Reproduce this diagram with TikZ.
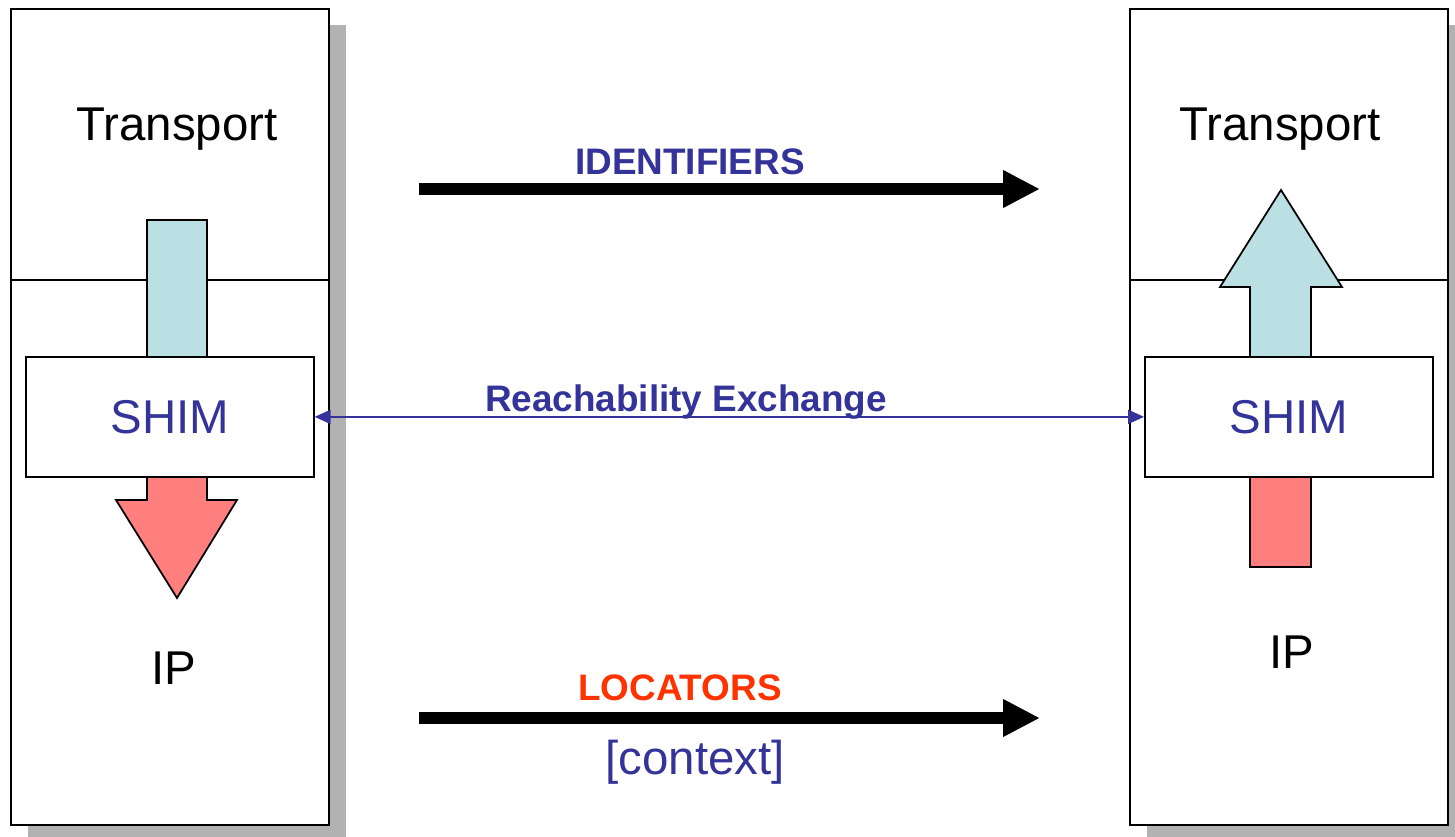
\documentclass[tikz,border=0pt]{standalone}
\usepackage{fontspec}
\setmainfont{Liberation Sans}
\usetikzlibrary{arrows.meta,shadows}
\definecolor{shimblue}{HTML}{333399}
\definecolor{locred}{HTML}{FF3300}
\definecolor{upcyan}{HTML}{BBE0E3}
\definecolor{downred}{HTML}{FF7F7F}
\definecolor{shadowgray}{HTML}{B2B2B2}
\begin{document}
\begin{tikzpicture}[x=0.02cm,y=-0.02cm,
    host/.style={draw,line width=1pt,fill=white,minimum width=6.36cm,minimum height=16.32cm,anchor=north west,
        drop shadow={shadow xshift=0.34cm,shadow yshift=-0.32cm,fill=shadowgray,opacity=1}},
    shimbox/.style={draw,line width=1pt,fill=white,minimum width=5.76cm,minimum height=2.4cm,anchor=north west,
        text=shimblue,font=\fontsize{27}{32}\selectfont},
    layer/.style={font=\fontsize{27}{32}\selectfont,text depth=0pt},
    tag/.style={font=\fontsize{21}{25}\selectfont\bfseries},
    bigflow/.style={line width=6.8pt,-{Triangle[length=21pt,width=20pt]}},
    blockarrow/.style={draw,line width=1pt,line join=miter}]
            \fill[white](0,0)rectangle(1455,836);
            \useasboundingbox(0,0)rectangle(1455,836);
            % the two hosts
            \node[host]at(10,8)(lhost){};
            \node[host]at(1129,8)(rhost){};
            \draw[line width=1pt](10,280)--(328,280);
            \draw[line width=1pt](1129,280)--(1447,280);
            \node[layer]at(177,124)(ltrans){Transport};
            \node[layer]at(1280,124)(rtrans){Transport};
            \node[layer]at(174,668)(lip){IP};
            \node[layer]at(1292,652)(rip){IP};
            % block arrows, under the shims
            \draw[blockarrow,fill=upcyan](147,220)rectangle(207,362);
            \draw[blockarrow,fill=downred](147,470)--(147,500)--(116,500)--(177,598)--(237,500)--(207,500)--(207,470)--cycle;
            \draw[blockarrow,fill=upcyan](1250,362)--(1250,287)--(1220,287)--(1281,190)--(1342,287)--(1311,287)--(1311,362)--cycle;
            \draw[blockarrow,fill=downred](1250,470)rectangle(1311,567);
            \node[shimbox]at(25,356)(lshim){SHIM};
            \node[shimbox]at(1144,356)(rshim){SHIM};
            \draw[shimblue,line width=0.8pt,{Triangle[length=9pt,width=8pt]}-{Triangle[length=9pt,width=8pt]}](lshim.east)--(rshim.west);
            \node[tag,text=shimblue]at(686,402)(reach){Reachability Exchange};
            % flows between the hosts
            \coordinate(idfrom)at(419,189);
            \coordinate(idto)at(1040,189);
            \draw[bigflow](idfrom)--(idto);
            \node[tag,text=shimblue]at(690,162)(idlabel){IDENTIFIERS};
            \coordinate(locfrom)at(419,718);
            \coordinate(locto)at(1040,718);
            \draw[bigflow](locfrom)--(locto);
            \node[tag,text=locred]at(680,688)(loclabel){LOCATORS};
            \node[font=\fontsize{27}{32}\selectfont,text=shimblue]at(695,762)(ctx){[context]};
        \end{tikzpicture}
\end{document}
